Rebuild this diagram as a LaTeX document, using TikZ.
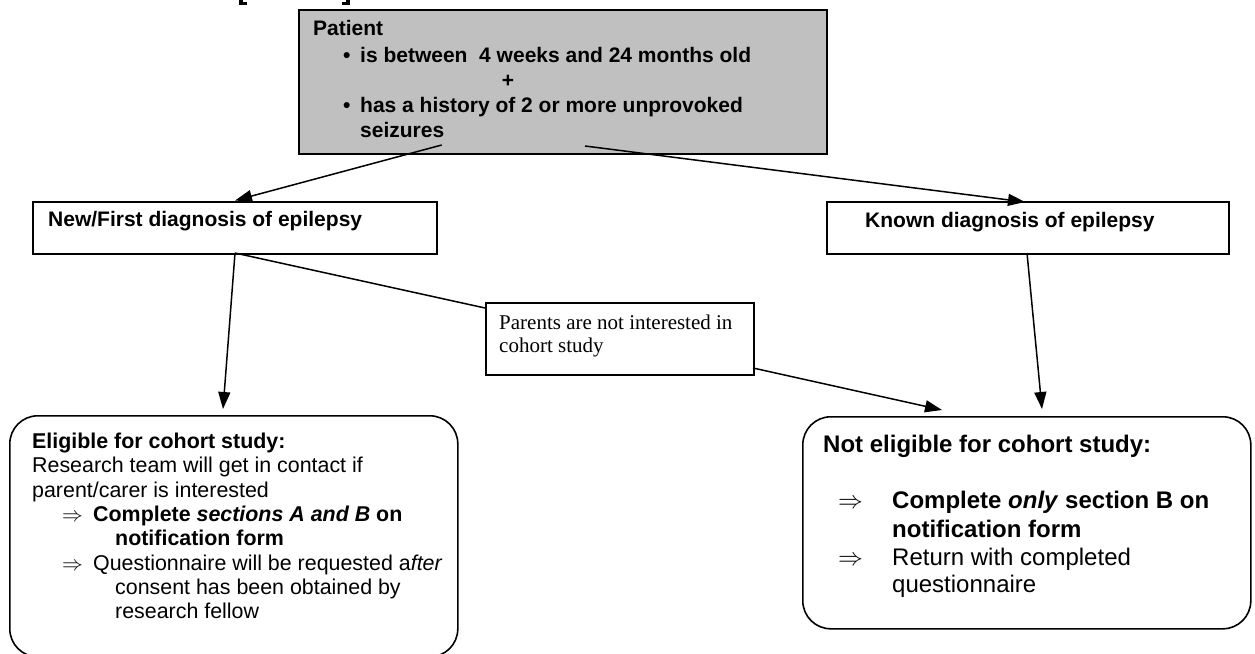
\documentclass[tikz,border=0pt]{standalone}
\usepackage{fontspec}
\setmainfont{Liberation Sans}
\newfontfamily\timesf{Liberation Serif}
\usetikzlibrary{arrows.meta,calc}
\definecolor{boxgray}{RGB}{192,192,192}
\begin{document}
\begin{tikzpicture}[x=1pt,y=-1pt,
  frame/.style={draw, line width=1.6pt, inner sep=0pt, anchor=north west},
  rframe/.style={frame, rounded corners=28pt},
  conn/.style={line width=1.5pt},
  arr/.style={conn, -{Triangle[length=17pt,width=12pt]}},
  ln/.style={anchor=base west, inner sep=0pt},
  tb/.style={ln, font=\fontsize{21}{24}\selectfont\bfseries},
  tl/.style={ln, font=\fontsize{21.4}{24}\selectfont},
  tlb/.style={ln, font=\fontsize{21.4}{24}\selectfont\bfseries},
  tr/.style={ln, font=\fontsize{24}{28}\selectfont},
  trb/.style={ln, font=\fontsize{24}{28}\selectfont\bfseries},
  tt/.style={ln, font=\fontsize{21}{24}\selectfont\timesf},
]
\useasboundingbox (0,0) rectangle (1255,653);

% clipped heading fragments
\fill (238.5,0) rectangle (242.5,4.5);
\fill (238.5,2) rectangle (247,4.5);
\fill (346,0) rectangle (350,4.5);
\fill (341.5,2) rectangle (350,4.5);

% frames
\node[frame, fill=boxgray, minimum width=528pt, minimum height=144pt] (patient) at (298,9) {};
\node[frame, minimum width=404pt, minimum height=52pt] (newdx) at (32,201) {};
\node[frame, minimum width=402pt, minimum height=52pt] (known) at (826,201) {};
\node[frame, minimum width=268pt, minimum height=72pt] (parents) at (485,302) {};
\node[rframe, minimum width=448pt, minimum height=241pt] (elig) at (9,415) {};
\node[rframe, minimum width=448pt, minimum height=212pt] (notelig) at (802,416) {};

% patient text
\node[tb] (p0) at (313,35) {Patient};
\node[tb] (p1b) at (343,62) {•};
\node[tb] (p1) at (360,62) {is between\ \ 4 weeks and 24 months old};
\node[tb, anchor=base] (p2) at (508,87) {+};
\node[tb] (p3b) at (343,112) {•};
\node[tb] (p3) at (360,112) {has a history of 2 or more unprovoked};
\node[tb] (p4) at (360,137) {seizures};

% diagnosis boxes text
\node[tb] (n0) at (48,226) {New/First diagnosis of epilepsy};
\node[tb] (k0) at (865,227) {Known diagnosis of epilepsy};

% parents text
\node[tt] (q0) at (499,329) {Parents are not interested in};
\node[tt] (q1) at (499,352) {cohort study};

% eligible text
\node[tlb] (e0) at (32,448) {Eligible for cohort study:};
\node[tl] (e1) at (32,472) {Research team will get in contact if};
\node[tl] (e2) at (32,497) {parent/carer is interested};
\node[tl] (e3a) at (62,521) {$\Rightarrow$};
\node[tlb] (e3) at (93,521) {Complete \textit{sections A and B} on};
\node[tlb] (e4) at (115,545) {notification form};
\node[tl] (e5a) at (62,570) {$\Rightarrow$};
\node[tl] (e5) at (93,570) {Questionnaire will be requested a\textit{fter}};
\node[tl] (e6) at (115,594) {consent has been obtained by};
\node[tl] (e7) at (115,618) {research fellow};

% not eligible text
\node[trb] (f0) at (823,452) {Not eligible for cohort study:};
\node[tr] (f1a) at (838,508) {$\Rightarrow$};
\node[trb] (f1) at (892,508) {Complete \textit{only} section B on};
\node[trb] (f2) at (892,537) {notification form};
\node[tr] (f3a) at (838,565) {$\Rightarrow$};
\node[tr] (f3) at (892,565) {Return with completed};
\node[tr] (f4) at (892,592) {questionnaire};

% connector end points
\coordinate (c1s) at (441.7,145);
\coordinate (c1e) at (235,200.5);
\coordinate (c2s) at (585,146);
\coordinate (c2e) at (1025,202);
\coordinate (c3s) at (235,253);
\coordinate (c3e) at (223,409);
\coordinate (c4e) at (485,308);
\coordinate (c5s) at (753,368);
\coordinate (c5e) at (942,410);
\coordinate (c6s) at (1027,253);
\coordinate (c6e) at (1042,409);

\draw[arr] (c1s) -- (c1e);
\draw[arr] (c2s) -- (c2e);
\draw[arr] (c3s) -- (c3e);
\draw[conn] (c3s) -- (c4e);
\draw[arr] (c5s) -- (c5e);
\draw[arr] (c6s) -- (c6e);
\end{tikzpicture}
\end{document}
